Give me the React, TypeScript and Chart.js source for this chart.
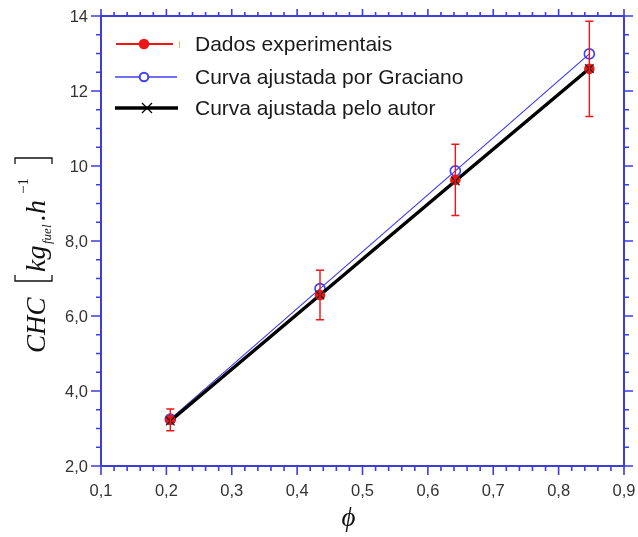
import { useEffect, useRef } from "react";
import { Chart, registerables } from "chart.js";

Chart.register(...registerables);

// Equivalence ratio and hourly fuel consumption values
const phi = [0.206, 0.435, 0.642, 0.847];
const chcExperimental = [3.23, 6.56, 9.63, 12.59];
const chcError = [0.29, 0.66, 0.95, 1.27];
const chcGraciano = [3.25, 6.73, 9.87, 12.99];
const chcAutor = [3.2, 6.56, 9.6, 12.6];

const seriesNames = [
  "Dados experimentais",
  "Curva ajustada por Graciano",
  "Curva ajustada pelo autor",
];

const xTickValues = [0.1, 0.2, 0.3, 0.4, 0.5, 0.6, 0.7, 0.8, 0.9];
const xTickLabels = ["0,1", "0,2", "0,3", "0,4", "0,5", "0,6", "0,7", "0,8", "0,9"];
const yTickValues = [2, 4, 6, 8, 10, 12, 14];
const yTickLabels = ["2,0", "4,0", "6,0", "8,0", "10", "12", "14"];

const X_MIN = 0.1;
const X_MAX = 0.9;
const Y_MIN = 2;
const Y_MAX = 14;
const X_MINOR_STEP = 0.02;
const Y_MINOR_STEP = 0.5;

const AXIS_COLOR = "#3d3ddb";
const RED = "#ee1515";
const BLUE = "#3f3ff5";
const BLACK = "#000000";
const LABEL_COLOR = "#333333";
const SANS = "Arial, 'Liberation Sans', sans-serif";
const SERIF = "'Times New Roman', 'Liberation Serif', serif";

const errorBars = {
  id: "errorBars",
  afterDatasetsDraw(chart: any) {
    const { ctx, scales } = chart;
    const xs = scales.x;
    const ys = scales.y;
    ctx.save();
    ctx.strokeStyle = RED;
    ctx.lineWidth = 1.4;
    phi.forEach((p, i) => {
      const px = xs.getPixelForValue(p);
      const top = ys.getPixelForValue(chcExperimental[i] + chcError[i]);
      const bot = ys.getPixelForValue(chcExperimental[i] - chcError[i]);
      ctx.beginPath();
      ctx.moveTo(px, top);
      ctx.lineTo(px, bot);
      ctx.moveTo(px - 4, top);
      ctx.lineTo(px + 4, top);
      ctx.moveTo(px - 4, bot);
      ctx.lineTo(px + 4, bot);
      ctx.stroke();
    });
    ctx.restore();
  },
};

function drawBracket(ctx: CanvasRenderingContext2D, x: number, top: number, bottom: number, open: boolean) {
  const w = 6;
  ctx.beginPath();
  if (open) {
    ctx.moveTo(x + w, top);
    ctx.lineTo(x, top);
    ctx.lineTo(x, bottom);
    ctx.lineTo(x + w, bottom);
  } else {
    ctx.moveTo(x - w, top);
    ctx.lineTo(x, top);
    ctx.lineTo(x, bottom);
    ctx.lineTo(x - w, bottom);
  }
  ctx.stroke();
}

const axesFrame = {
  id: "axesFrame",
  afterDraw(chart: any) {
    const { ctx, chartArea: a, scales } = chart;
    const xs = scales.x;
    const ys = scales.y;
    ctx.save();

    // frame
    ctx.strokeStyle = AXIS_COLOR;
    ctx.lineWidth = 2;
    ctx.strokeRect(a.left, a.top, a.right - a.left, a.bottom - a.top);

    // x ticks (bottom and top, pointing outward)
    ctx.lineWidth = 1.6;
    const nx = Math.round((X_MAX - X_MIN) / X_MINOR_STEP);
    for (let i = 0; i <= nx; i++) {
      const v = X_MIN + i * X_MINOR_STEP;
      const px = xs.getPixelForValue(v);
      const major = i % 5 === 0;
      ctx.beginPath();
      ctx.moveTo(px, a.bottom);
      ctx.lineTo(px, a.bottom + (major ? 9 : 5));
      ctx.moveTo(px, a.top);
      ctx.lineTo(px, a.top - (major ? 7 : 4));
      ctx.stroke();
    }
    // y ticks (left and right, pointing outward)
    const ny = Math.round((Y_MAX - Y_MIN) / Y_MINOR_STEP);
    for (let i = 0; i <= ny; i++) {
      const v = Y_MIN + i * Y_MINOR_STEP;
      const py = ys.getPixelForValue(v);
      const major = i % 4 === 0;
      ctx.beginPath();
      ctx.moveTo(a.left, py);
      ctx.lineTo(a.left - (major ? 10 : 5), py);
      ctx.moveTo(a.right, py);
      ctx.lineTo(a.right + (major ? 9 : 5), py);
      ctx.stroke();
    }

    // tick labels
    ctx.fillStyle = LABEL_COLOR;
    ctx.font = `16.5px ${SANS}`;
    ctx.textAlign = "center";
    ctx.textBaseline = "middle";
    xTickValues.forEach((v, i) => {
      ctx.fillText(xTickLabels[i], xs.getPixelForValue(v), a.bottom + 25);
    });
    ctx.textAlign = "right";
    yTickValues.forEach((v, i) => {
      ctx.fillText(yTickLabels[i], a.left - 13, ys.getPixelForValue(v) + 1);
    });

    // x axis title
    ctx.fillStyle = "#111";
    ctx.font = `italic 27px ${SERIF}`;
    ctx.textAlign = "center";
    ctx.textBaseline = "alphabetic";
    ctx.fillText("\u03d5", (a.left + a.right) / 2 - 14, 526);

    // y axis title: CHC [kg_fuel . h^-1], written bottom to top
    ctx.save();
    ctx.translate(45, 353);
    ctx.rotate(-Math.PI / 2);
    ctx.textAlign = "left";
    ctx.textBaseline = "alphabetic";
    ctx.strokeStyle = "#111";
    ctx.lineWidth = 1.3;
    const big = `italic 27px ${SERIF}`;
    const mid = `italic 28px ${SERIF}`;
    const sub = `italic 13px ${SERIF}`;
    const sup = `15px ${SERIF}`;
    const parts: { t: string; f: string; at: number; dy: number }[] = [
      { t: "CHC", f: big, at: 0, dy: 0 },
      { t: "[", f: "", at: 72, dy: 0 },
      { t: "kg", f: mid, at: 81, dy: 0 },
      { t: "fuel", f: sub, at: 109, dy: 6 },
      { t: ".", f: mid, at: 132, dy: 0 },
      { t: "h", f: mid, at: 139, dy: 0 },
      { t: "\u22121", f: sup, at: 159, dy: -17 },
      { t: "]", f: "", at: 195, dy: 0 },
    ];
    parts.forEach((p) => {
      if (p.t === "[") {
        drawBracket(ctx, p.at, -30, 7, true);
      } else if (p.t === "]") {
        drawBracket(ctx, p.at, -30, 7, false);
      } else {
        ctx.font = p.f;
        ctx.fillText(p.t, p.at, p.dy);
      }
    });
    ctx.restore();

    // legend
    const lx0 = 116;
    const textX = 195;
    const rows = [44, 77, 108];
    ctx.font = `21px ${SANS}`;
    ctx.textAlign = "left";
    ctx.textBaseline = "middle";

    // experimental
    ctx.strokeStyle = RED;
    ctx.lineWidth = 2;
    ctx.beginPath();
    ctx.moveTo(lx0, rows[0]);
    ctx.lineTo(lx0 + 57, rows[0]);
    ctx.stroke();
    ctx.fillStyle = RED;
    ctx.beginPath();
    ctx.arc(lx0 + 28, rows[0], 5.3, 0, Math.PI * 2);
    ctx.fill();
    ctx.strokeStyle = "#f3b46a";
    ctx.lineWidth = 1;
    ctx.beginPath();
    ctx.moveTo(179.5, rows[0] - 3);
    ctx.lineTo(179.5, rows[0] + 4);
    ctx.stroke();

    // Graciano
    ctx.strokeStyle = BLUE;
    ctx.lineWidth = 1.5;
    ctx.beginPath();
    ctx.moveTo(lx0 - 1, rows[1]);
    ctx.lineTo(lx0 + 61, rows[1]);
    ctx.stroke();
    ctx.fillStyle = "#ffffff";
    ctx.lineWidth = 2;
    ctx.beginPath();
    ctx.arc(lx0 + 28, rows[1], 4.3, 0, Math.PI * 2);
    ctx.fill();
    ctx.stroke();

    // autor
    ctx.strokeStyle = BLACK;
    ctx.lineWidth = 3.5;
    ctx.beginPath();
    ctx.moveTo(lx0 - 1, rows[2]);
    ctx.lineTo(lx0 + 62, rows[2]);
    ctx.stroke();
    ctx.lineWidth = 1.3;
    ctx.beginPath();
    const cxm = lx0 + 31;
    ctx.moveTo(cxm - 5, rows[2] - 5);
    ctx.lineTo(cxm + 5, rows[2] + 5);
    ctx.moveTo(cxm - 5, rows[2] + 5);
    ctx.lineTo(cxm + 5, rows[2] - 5);
    ctx.stroke();

    ctx.fillStyle = "#1a1a1a";
    seriesNames.forEach((name, i) => {
      ctx.fillText(name, textX, rows[i] + 1);
    });

    ctx.restore();
  },
};

const whiteBackground = {
  id: "whiteBackground",
  beforeDraw(chart: any) {
    const { ctx, width, height } = chart;
    ctx.save();
    ctx.fillStyle = "#ffffff";
    ctx.fillRect(0, 0, width, height);
    ctx.restore();
  },
};

export default function App() {
  const canvasRef = useRef<HTMLCanvasElement | null>(null);

  useEffect(() => {
    if (!canvasRef.current) return;
    const toPoints = (ys: number[]) => phi.map((x, i) => ({ x, y: ys[i] }));
    const chart = new Chart(canvasRef.current, {
      type: "scatter",
      data: {
        datasets: [
          {
            label: seriesNames[1],
            data: toPoints(chcGraciano),
            showLine: true,
            borderColor: BLUE,
            borderWidth: 1.2,
            pointStyle: "circle",
            pointRadius: 5,
            pointBorderWidth: 1.6,
            pointBorderColor: BLUE,
            pointBackgroundColor: "rgba(255,255,255,0)",
            order: 4,
          },
          {
            // fitted line of the author, markers drawn separately on top
            label: seriesNames[2],
            data: toPoints(chcAutor),
            showLine: true,
            borderColor: BLACK,
            borderWidth: 3.5,
            pointRadius: 0,
            order: 3,
          },
          {
            label: seriesNames[0],
            data: toPoints(chcExperimental),
            showLine: false,
            pointStyle: "circle",
            pointRadius: 5.3,
            pointBorderWidth: 0,
            pointBackgroundColor: RED,
            pointBorderColor: RED,
            order: 2,
          },
          {
            label: seriesNames[2] + " (pontos)",
            data: toPoints(chcAutor),
            showLine: false,
            pointStyle: "crossRot",
            pointRadius: 6,
            pointBorderWidth: 1.3,
            pointBorderColor: "#222",
            order: 1,
          },
        ],
      },
      options: {
        responsive: false,
        animation: false,
        events: [],
        layout: { padding: { left: 101, right: 14, top: 16, bottom: 71 } },
        plugins: {
          legend: { display: false },
          tooltip: { enabled: false },
        },
        scales: {
          x: {
            type: "linear",
            min: X_MIN,
            max: X_MAX,
            display: false,
          },
          y: {
            type: "linear",
            min: Y_MIN,
            max: Y_MAX,
            display: false,
          },
        },
      },
      plugins: [whiteBackground, errorBars, axesFrame],
    });
    return () => chart.destroy();
  }, []);

  return (
    <div style={{ position: "absolute", left: 0, top: 0, width: 638, height: 537 }}>
      <canvas ref={canvasRef} width={638} height={537} style={{ display: "block" }} />
    </div>
  );
}
